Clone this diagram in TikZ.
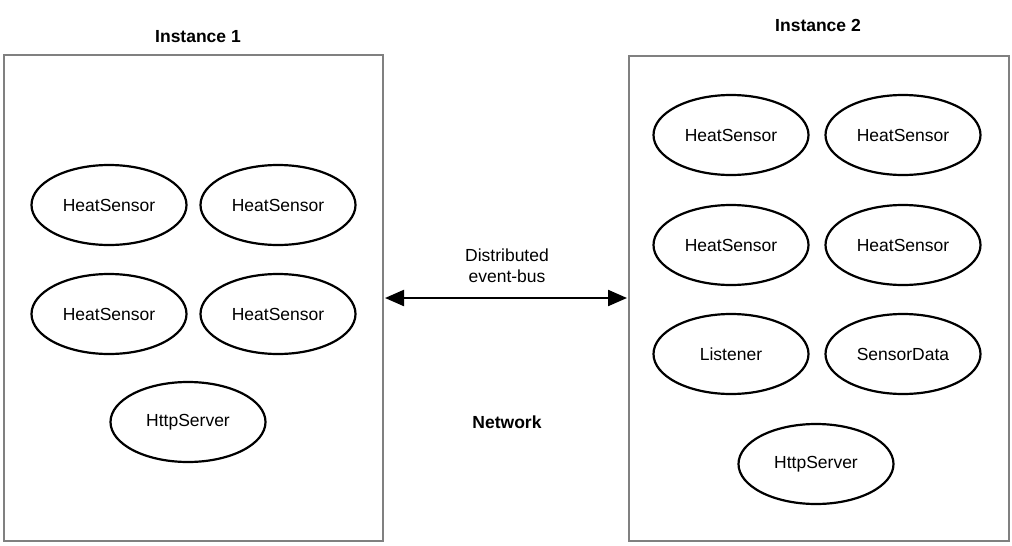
\documentclass[tikz,border=0pt]{standalone}
\usepackage{fontspec}
\setmainfont{Liberation Sans}
\usetikzlibrary{shapes.geometric, arrows.meta}
\tikzstyle{actor} = [ellipse, minimum width=155pt, minimum height=80pt, text centered, draw=black, line width=2.2pt, inner sep=0pt]
\tikzstyle{instance} = [draw=black!50, line width=2pt]
\tikzstyle{title} = [font=\bfseries\fontsize{17.5}{21}\selectfont]
\tikzstyle{arrow} = [{Triangle[length=19pt,width=16pt]}-{Triangle[length=19pt,width=16pt]}, line width=2.2pt]

\begin{document}
\begin{tikzpicture}[x=1pt, y=-1pt, font=\fontsize{17.5}{21}\selectfont]
    \useasboundingbox (0,0) rectangle (1012,546);
    % instance boxes
    \draw [instance] (4,55) rectangle (383,541);
    \draw [instance] (629,56) rectangle (1009,541);
    \node (title1) [title] at (198,37) {Instance 1};
    \node (title2) [title] at (818,25) {Instance 2};

    % instance 1
    \node (hs11) [actor] at (109,205) {HeatSensor};
    \node (hs12) [actor] at (278,205) {HeatSensor};
    \node (hs13) [actor] at (109,314) {HeatSensor};
    \node (hs14) [actor] at (278,314) {HeatSensor};
    \node (http1) [actor] at (188,422) {HttpServer};

    % instance 2
    \node (hs21) [actor] at (731,135) {HeatSensor};
    \node (hs22) [actor] at (903,135) {HeatSensor};
    \node (hs23) [actor] at (731,245) {HeatSensor};
    \node (hs24) [actor] at (903,245) {HeatSensor};
    \node (listener) [actor] at (731,354) {Listener};
    \node (data) [actor] at (903,354) {SensorData};
    \node (http2) [actor] at (816,464) {HttpServer};

    % network
    \coordinate (left) at (385,298);
    \coordinate (right) at (627,298);
    \draw [arrow] (left) -- (right);
    \node (bus) [align=center] at (507,266) {Distributed\\event-bus};
    \node (net) [title] at (507,422) {Network};
\end{tikzpicture}
\end{document}
